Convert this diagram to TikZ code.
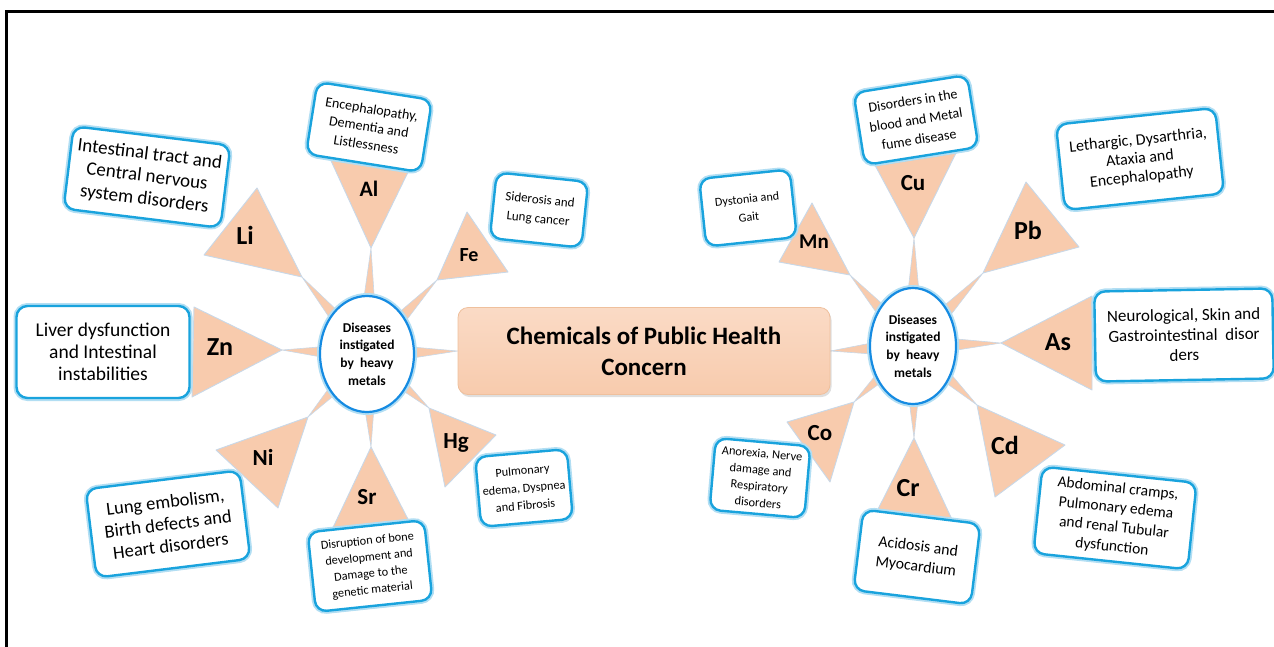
\documentclass[tikz,border=0pt]{standalone}
\usepackage{fontspec}
\setmainfont{Carlito}
\usetikzlibrary{shapes.geometric,calc,shadows,backgrounds}

\definecolor{peach}{RGB}{248,203,173}
\definecolor{rim}{RGB}{25,163,221}
\definecolor{halo}{RGB}{178,222,243}
\definecolor{edge}{RGB}{200,216,232}

\begin{document}
\begin{tikzpicture}[
    x=1pt, y=-1pt,
    note/.style={rectangle, rounded corners=11pt, draw=rim, line width=2.4pt, fill=white,
        align=center, inner sep=2pt,
        drop shadow={shadow xshift=1.5pt, shadow yshift=-2.5pt, opacity=0.3},
        preaction={draw=halo, line width=6pt}},
    hub/.style={ellipse, draw=rim!85!blue, line width=2.2pt, fill=white, align=center,
        inner sep=0pt, minimum height=116pt, preaction={draw=halo, line width=6pt},
        font=\bfseries\fontsize{13.5}{17.7}\selectfont},
    centre/.style={rectangle, rounded corners=10pt, top color=peach!70!white, bottom color=peach,
        draw=peach!85!brown, line width=0.8pt, minimum width=372pt, minimum height=87pt,
        drop shadow={shadow xshift=1.5pt, shadow yshift=-2.5pt, opacity=0.25},
        align=center, font=\bfseries\fontsize{25}{31}\selectfont},
    tri/.style={fill=peach, draw=edge, line width=0.9pt, line join=round},
    stem/.style={fill=peach, draw=edge, line width=0.6pt, line join=round,
        to path={-- ($(\tikztotarget)!11pt!90:(\tikztostart)$)
                 -- ($(\tikztotarget)!11pt!-90:(\tikztostart)$) -- cycle}},
    sym/.style={font=\bfseries\fontsize{#1}{#1}\selectfont},
    sym/.default=23
]
\useasboundingbox (0,0) rectangle (1274,646);
\draw[line width=3pt] (6,660) -- (6,11) -- (1290,11);

% middle and the two hubs
\node[centre] (chem) at (644,351) {Chemicals of Public Health\\Concern};
\node[hub, minimum width=94pt] (hubL) at (367,354) {Diseases\\instigated\\by\ \ heavy\\metals};
\node[hub, minimum width=86pt] (hubR) at (913,346) {Diseases\\instigated\\by\ \ heavy\\metals};

% left metals
\draw[tri] (257,188) -- (204,255) -- (302,277) coordinate (li-tip) -- cycle;
\draw[tri] (327,152) -- (413,162) -- (371,248) coordinate (al-tip) -- cycle;
\draw[tri] (467,212) -- (508,272) -- (437,280) coordinate (fe-tip) -- cycle;
\draw[tri] (194,307) -- (192,397) -- (282,350) coordinate (zn-tip) -- cycle;
\draw[tri] (216,450) -- (278,508) -- (308,417) coordinate (ni-tip) -- cycle;
\draw[tri] (329,536) -- (412,527) -- (371,447) coordinate (sr-tip) -- cycle;
\draw[tri] (496,435) -- (445,487) -- (429,408) coordinate (hg-tip) -- cycle;

\node[sym=26] (li-sym) at (245,235) {Li};
\node[sym=22] (al-sym) at (369,189) {Al};
\node[sym=20] (fe-sym) at (469,255) {Fe};
\node[sym=26] (zn-sym) at (220,347) {Zn};
\node[sym] (ni-sym) at (263,457) {Ni};
\node[sym] (sr-sym) at (367,497) {Sr};
\node[sym] (hg-sym) at (456,443) {Hg};

% right metals
\draw[tri] (869,154) -- (960,145) -- (914,238) coordinate (cu-tip) -- cycle;
\draw[tri] (1026,182) -- (1079,247) -- (983,273) coordinate (pb-tip) -- cycle;
\draw[tri] (812,203) -- (779,262) -- (850,275) coordinate (mn-tip) -- cycle;
\draw[tri] (1092,296) -- (1092,390) -- (1001,343) coordinate (as-tip) -- cycle;
\draw[tri] (787,422) -- (830,482) -- (854,402) coordinate (co-tip) -- cycle;
\draw[tri] (873,519) -- (956,528) -- (914,438) coordinate (cr-tip) -- cycle;
\draw[tri] (1065,445) -- (995,497) -- (977,405) coordinate (cd-tip) -- cycle;

\node[sym] (cu-sym) at (913,183) {Cu};
\node[sym=26] (pb-sym) at (1028,230) {Pb};
\node[sym=21] (mn-sym) at (814,242) {Mn};
\node[sym=26] (as-sym) at (1058,342) {As};
\node[sym] (co-sym) at (820,433) {Co};
\node[sym=26] (cr-sym) at (908,488) {Cr};
\node[sym=26] (cd-sym) at (1005,445) {Cd};

% disease boxes
\node[note, rotate=-7, minimum width=158pt, minimum height=83pt, font=\fontsize{19}{22.5}\selectfont]
    (li-box) at (147,177) {Intestinal tract and\\Central nervous\\system disorders};
\node[note, rotate=-9, minimum width=116pt, minimum height=73pt, font=\fontsize{14}{18}\selectfont]
    (al-box) at (369,127) {Encephalopathy,\\Dementia and\\Listlessness};
\node[note, rotate=-6, minimum width=92pt, minimum height=66pt, font=\fontsize{13}{19}\selectfont]
    (fe-box) at (539,210) {Siderosis and\\Lung cancer};
\node[note, minimum width=173pt, minimum height=92pt, font=\fontsize{19.5}{22}\selectfont]
    (zn-box) at (103,352) {Liver dysfunction\\and Intestinal\\instabilities};
\node[note, rotate=7, minimum width=155pt, minimum height=89pt, font=\fontsize{18.5}{22}\selectfont]
    (ni-box) at (168,524) {Lung embolism,\\Birth defects and\\Heart disorders};
\node[note, rotate=6, minimum width=117pt, minimum height=80pt, font=\fontsize{12.3}{16.5}\selectfont]
    (sr-box) at (370,566) {Disruption of bone\\development and\\Damage to the\\genetic material};
\node[note, rotate=5, minimum width=92pt, minimum height=70pt, font=\fontsize{12.3}{17.5}\selectfont]
    (hg-box) at (524,488) {Pulmonary\\edema, Dyspnea\\and Fibrosis};

\node[note, rotate=9, minimum width=115pt, minimum height=73pt, font=\fontsize{14}{19.5}\selectfont]
    (cu-box) at (916,120) {Disorders in the\\blood and Metal\\fume disease};
\node[note, rotate=6, minimum width=160pt, minimum height=86pt, font=\fontsize{16}{18.5}\selectfont]
    (pb-box) at (1140,159) {Lethargic, Dysarthria,\\Ataxia and\\Encephalopathy};
\node[note, rotate=6, minimum width=91pt, minimum height=68pt, font=\fontsize{12.2}{18}\selectfont]
    (mn-box) at (748,208) {Dystonia and\\Gait};
\node[note, rotate=1, minimum width=178pt, minimum height=90pt, font=\fontsize{17}{20}\selectfont]
    (as-box) at (1184,335) {Neurological, Skin and\\Gastrointestinal\ \ disor\\ders};
\node[note, rotate=-5, minimum width=95pt, minimum height=72pt, font=\fontsize{12.4}{16.5}\selectfont]
    (co-box) at (760,478) {Anorexia, Nerve\\damage and\\Respiratory\\disorders};
\node[note, rotate=-7, minimum width=118pt, minimum height=81pt, font=\fontsize{15.8}{20}\selectfont]
    (cr-box) at (917,557) {Acidosis and\\Myocardium};
\node[note, rotate=-6, minimum width=155pt, minimum height=87pt, font=\fontsize{15.5}{19.5}\selectfont]
    (cd-box) at (1115,518) {Abdominal cramps,\\Pulmonary edema\\and renal Tubular\\dysfunction};

% spokes behind everything
\begin{pgfonlayer}{background}
\draw[stem] (chem.west) to (hubL);
\draw[stem] (li-tip) to (hubL);
\draw[stem] (al-tip) to (hubL);
\draw[stem] (fe-tip) to (hubL);
\draw[stem] (zn-tip) to (hubL);
\draw[stem] (ni-tip) to (hubL);
\draw[stem] (sr-tip) to (hubL);
\draw[stem] (hg-tip) to (hubL);
\draw[stem] (chem.east) to (hubR);
\draw[stem] (cu-tip) to (hubR);
\draw[stem] (pb-tip) to (hubR);
\draw[stem] (mn-tip) to (hubR);
\draw[stem] (as-tip) to (hubR);
\draw[stem] (co-tip) to (hubR);
\draw[stem] (cr-tip) to (hubR);
\draw[stem] (cd-tip) to (hubR);
\end{pgfonlayer}
\end{tikzpicture}
\end{document}
